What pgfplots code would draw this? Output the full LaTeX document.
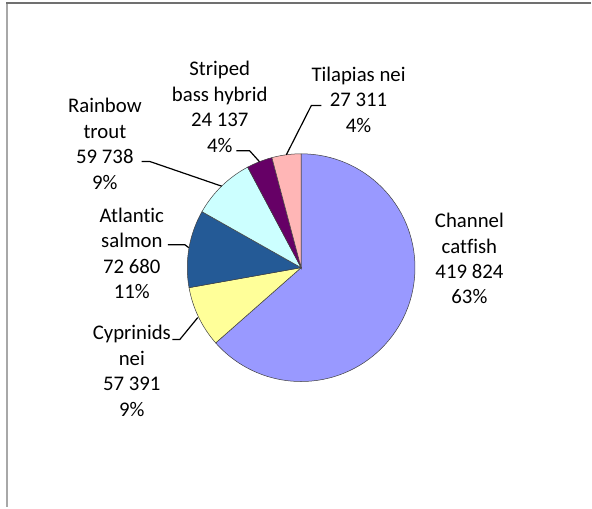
\documentclass[border=0pt]{standalone}
\usepackage{pgfplots}
\usepackage{pgfplotstable}
\pgfplotsset{compat=1.18}
\usepackage{fontspec}
\setmainfont{Carlito}[Ligatures=NoCommon]
\definecolor{cCatfish}{HTML}{9999FF}
\definecolor{cCyprin}{HTML}{FFFF99}
\definecolor{cSalmon}{HTML}{245A96}
\definecolor{cTrout}{HTML}{CCFFFF}
\definecolor{cBass}{HTML}{660066}
\definecolor{cTilapia}{HTML}{FFB6B6}
\definecolor{frameA}{HTML}{707070}
\definecolor{frameB}{HTML}{A8A8A8}

\pgfplotstableread{
species value
ChannelCatfish 419824
Cyprinids 57391
AtlanticSalmon 72680
RainbowTrout 59738
StripedBass 24137
Tilapias 27311
}\piedata

\newcommand{\getv}[2]{\pgfplotstablegetelem{#1}{value}\of\piedata\edef#2{\pgfplotsretval}}
\getv{0}\vA \getv{1}\vB \getv{2}\vC \getv{3}\vD \getv{4}\vE \getv{5}\vF
\edef\tot{\fpeval{\vA+\vB+\vC+\vD+\vE+\vF}}
\edef\aA{90}
\edef\aB{\fpeval{\aA-360*\vA/\tot}}
\edef\aC{\fpeval{\aB-360*\vB/\tot}}
\edef\aD{\fpeval{\aC-360*\vC/\tot}}
\edef\aE{\fpeval{\aD-360*\vD/\tot}}
\edef\aF{\fpeval{\aE-360*\vE/\tot}}
\edef\aG{\fpeval{\aF-360*\vF/\tot}}

\newcommand{\pieslice}[3]{\filldraw[draw=black!75, line width=0.5bp, fill=#3] (axis cs:301.5,240) -- +(#1:114bp) arc[start angle=#1, end angle=#2, radius=114bp] -- cycle;}

\begin{document}
\begin{tikzpicture}
\begin{axis}[
  scale only axis, width=592bp, height=508bp,
  xmin=0, xmax=592, ymin=0, ymax=508,
  hide axis, clip=false,
]
\pieslice{\aA}{\aB}{cCatfish}
\pieslice{\aB}{\aC}{cCyprin}
\pieslice{\aC}{\aD}{cSalmon}
\pieslice{\aD}{\aE}{cTrout}
\pieslice{\aE}{\aF}{cBass}
\pieslice{\aF}{\aG}{cTilapia}

% frame
\draw[frameB, line width=1.5bp] (axis cs:7,505) -- (axis cs:7,0);
\draw[frameA, line width=1.5bp] (axis cs:6.25,505) -- (axis cs:592,505);

% leader lines
\draw[black, line width=1.2bp] (axis cs:172.7,168) -- (axis cs:180,168) -- (axis cs:198,190);
\draw[black, line width=1.2bp] (axis cs:168,263) -- (axis cs:185,263) -- (axis cs:189,260);
\draw[black, line width=1.2bp] (axis cs:141.7,346.3) -- (axis cs:150,346.3) -- (axis cs:221.9,321.6);
\draw[black, line width=1.2bp] (axis cs:236.7,357) -- (axis cs:250,357) -- (axis cs:259.8,346.1);
\draw[black, line width=1.2bp] (axis cs:321.7,402.3) -- (axis cs:311.7,402.3) -- (axis cs:286.7,353);

% labels
\tikzset{lab/.style={align=center, inner sep=0pt, font=\fontsize{20.8bp}{25.5bp}\selectfont}}
\node[lab] at (axis cs:470,249) {Channel\\catfish\\419 824\\63\%};
\node[lab] at (axis cs:132,136.5) {Cyprinids\\nei\\57 391\\9\%};
\node[lab] at (axis cs:132,254.5) {Atlantic\\salmon\\72 680\\11\%};
\node[lab] at (axis cs:105,364) {Rainbow\\trout\\59 738\\9\%};
\node[lab] at (axis cs:220,401) {Striped\\bass hybrid\\24 137\\4\%};
\node[lab] at (axis cs:359,408) {Tilapias nei\\27 311\\4\%};
\path (axis cs:0,0) rectangle (axis cs:592,508);
\end{axis}
\end{tikzpicture}
\end{document}
